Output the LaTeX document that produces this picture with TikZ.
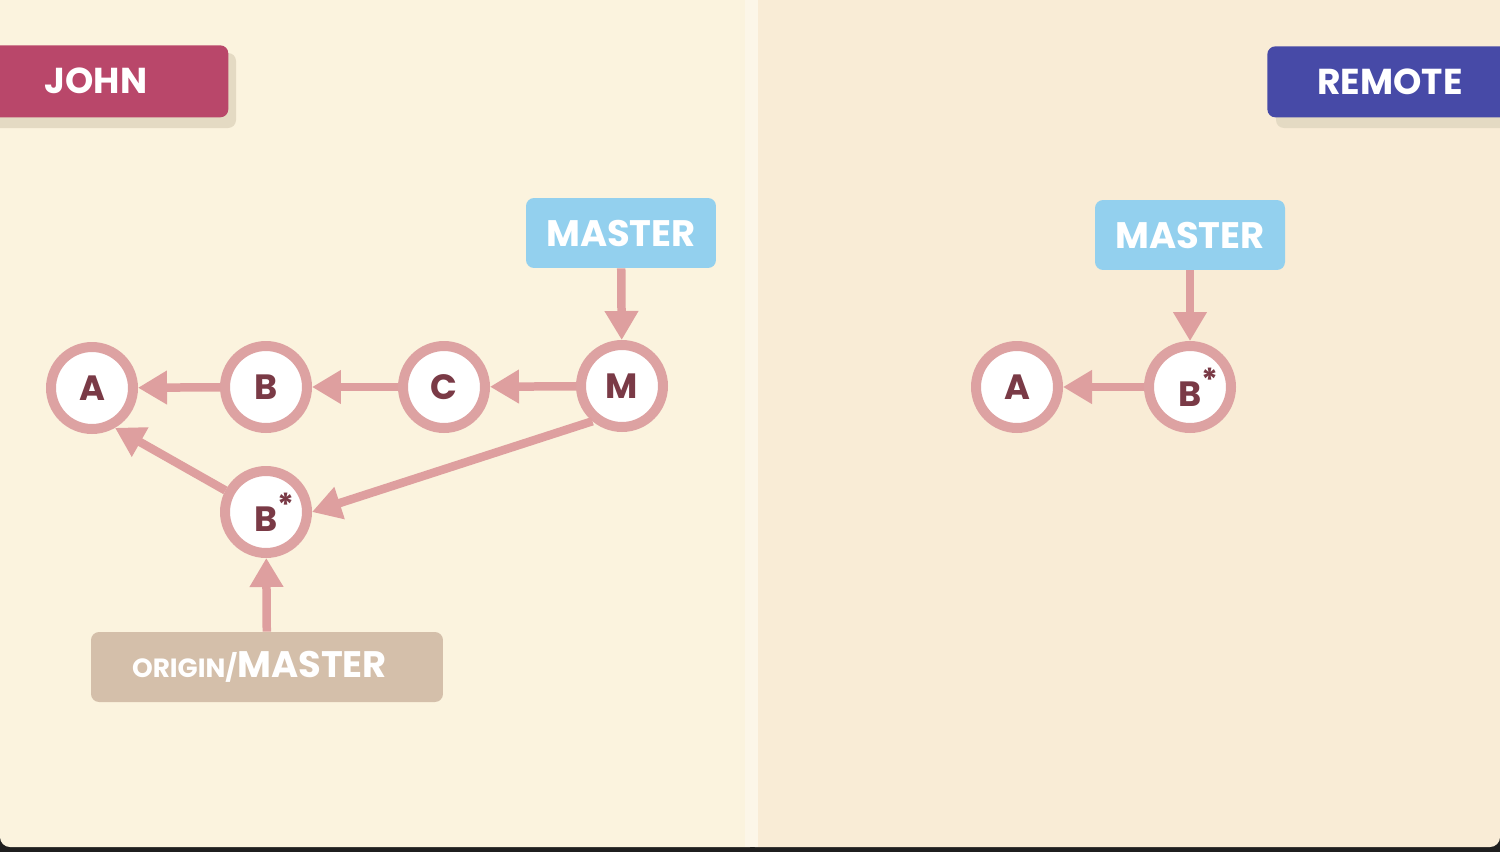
\documentclass[tikz,border=0pt]{standalone}
\usepackage{fontspec}
\setmainfont{Poppins}
\usetikzlibrary{arrows.meta}
\definecolor{bgL}{HTML}{FBF3DE}
\definecolor{bgR}{HTML}{F9ECD6}
\definecolor{divc}{HTML}{FCF6E8}
\definecolor{ring}{HTML}{DDA2A2}
\definecolor{arr}{HTML}{DE9F9F}
\definecolor{ctext}{HTML}{7A3A46}
\definecolor{john}{HTML}{B9476A}
\definecolor{remote}{HTML}{474AA7}
\definecolor{master}{HTML}{93D0EE}
\definecolor{origin}{HTML}{D4BFAA}
\definecolor{shadowc}{HTML}{E4DAC3}
\tikzset{
  commit/.style={circle, draw=ring, line width=0.2cm, fill=white, minimum size=1.64cm, inner sep=0pt,
    text=ctext, font=\fontsize{20}{20}\selectfont\bfseries},
  link/.style={draw=arr, line width=0.17cm, -{Triangle[length=0.58cm,width=0.64cm]}},
  tag/.style={rounded corners=0.16cm, text=white, inner sep=0pt, font=\fontsize{21}{21}\selectfont\bfseries},
}
\begin{document}
\begin{tikzpicture}[x=0.02cm,y=-0.02cm]
\useasboundingbox (0,0) rectangle (1500,852);
\fill[black!88] (0,0) rectangle (1500,852);
\fill[bgL, rounded corners=0.2cm] (0,-20) rectangle (760,847);
\fill[bgR, rounded corners=0.2cm] (745,-20) rectangle (1500,847);
\fill[bgL] (0,-20) rectangle (745,800);
\fill[bgR] (758,-20) rectangle (1500,800);
\fill[divc] (745,0) rectangle (758,847);
% title tags
\fill[shadowc, rounded corners=0.16cm] (-20,53) rectangle (236,128);
\node[tag, fill=john, minimum width=4.96cm, minimum height=1.44cm, anchor=north west] (john) at (-20,45) {};
\node[text=white, font=\fontsize{20.5}{20}\selectfont\bfseries] (johnt) at (96,81) {JOHN};
\fill[shadowc, rounded corners=0.16cm] (1276,55) rectangle (1520,128);
\node[tag, fill=remote, minimum width=5cm, minimum height=1.42cm, anchor=north west] (remote) at (1267,46) {};
\node[text=white, font=\fontsize{20.5}{20}\selectfont\bfseries] (remotet) at (1390,82) {REMOTE};
% branch tags
\node[tag, fill=master, minimum width=3.8cm, minimum height=1.4cm] (mL) at (621,233) {MASTER};
\node[tag, fill=master, minimum width=3.8cm, minimum height=1.4cm] (mR) at (1190,235) {MASTER};
\node[tag, fill=origin, minimum width=7.04cm, minimum height=1.4cm] (om) at (267,667)
  {\hspace*{-0.3cm}\fontsize{15}{15}\selectfont ORIGIN/\fontsize{21}{21}\selectfont MASTER};
% commits left
\node[commit] (A) at (92,388) {A};
\node[commit] (B) at (266,387) {B};
\node[commit] (C) at (444,387) {C};
\node[commit] (M) at (622,386) {M};
\node[commit] (Bs) at (266,512) {B\rlap{\raisebox{0.42em}{\fontsize{18}{18}\selectfont *}}};
% commits right
\node[commit] (A2) at (1017,387) {A};
\node[commit] (Bs2) at (1190,387) {B\rlap{\raisebox{0.42em}{\fontsize{18}{18}\selectfont *}}};
% connectors
\draw[link] (B) -- (A);
\draw[link] (C) -- (B);
\draw[link] (M) -- (C);
\draw[link] (Bs.152) -- (A.300);
\draw[link] (M.230) -- (Bs.east);
\draw[link] (om) -- (Bs);
\draw[link] (mL) -- (M);
\draw[link] (mR) -- (Bs2);
\draw[link] (Bs2) -- (A2);
\end{tikzpicture}
\end{document}
